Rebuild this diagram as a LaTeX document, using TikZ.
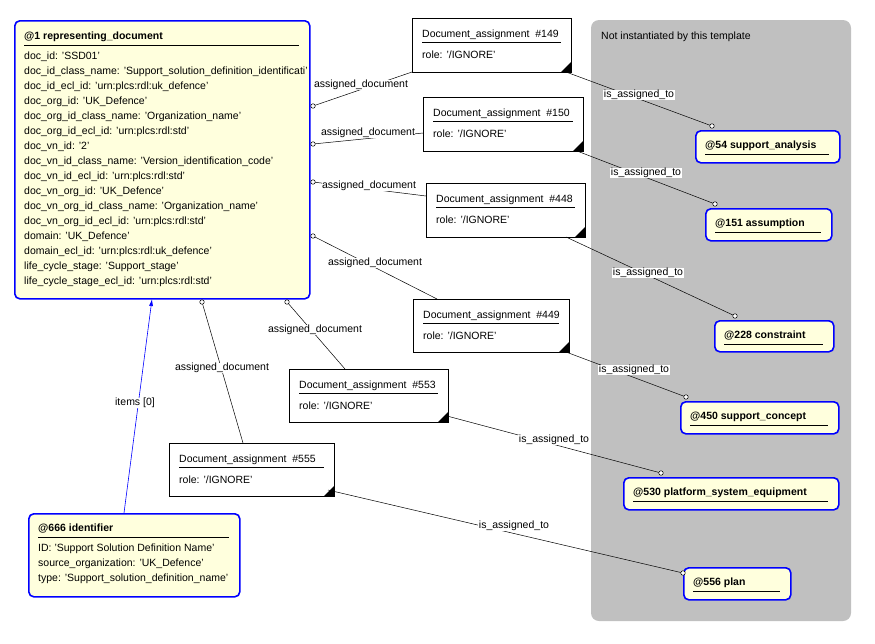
\documentclass[tikz,border=0pt]{standalone}
\usepackage{fontspec}
\setmainfont{Liberation Sans}
\usetikzlibrary{arrows.meta}
\definecolor{ent}{RGB}{255,255,221}
\definecolor{grey}{RGB}{192,192,192}
\definecolor{eb}{RGB}{0,0,255}
\tikzset{
 ent/.style={draw=eb,line width=1.6pt,fill=ent,rounded corners=5pt,inner sep=0},
 da/.style={draw=black,line width=0.8pt,fill=white,inner sep=0},
 t/.style={anchor=west,inner sep=0,font=\fontsize{10.5}{12}\selectfont},
 tb/.style={t,font=\fontsize{10.5}{12}\selectfont\bfseries},
 lab/.style={fill=white,inner sep=0.5pt,font=\fontsize{10.5}{12}\selectfont},
 con/.style={draw=black,line width=0.5pt},
 oc/.style={circle,draw=black,fill=white,inner sep=0,minimum size=4.5pt,line width=0.5pt},
}
\newcommand{\dabox}[6]{% name x1 y1 x2 y2 number
 \node[da,minimum width=#4-#2,minimum height=#5-#3,anchor=north west] (#1) at (#2,#3) {};
 \node[t] (#1t) at (#2+10,#3+17) {Document\_assignment\ \ #6};
 \draw[line width=0.5pt] (#1t.south west)++(0,-2.5pt) -- ++(#4-#2-20,0);
 \node[t] (#1r) at (#2+10,#3+37) {role: '/IGNORE'};
 \fill (#4,#5) -- ++(-10,0) -- ++(10,-10) -- cycle;
}
\newcommand{\entbox}[6]{% name x1 y1 x2 y2 title
 \node[ent,minimum width=#4-#2,minimum height=#5-#3,anchor=north west] (#1) at (#2,#3) {};
 \node[tb] (#1t) at (#2+10,#3+16) {#6};
 \draw[line width=0.6pt] (#1t.south west)++(0,-3pt) -- ++(#4-#2-20,0);
}
\begin{document}
\begin{tikzpicture}[x=1pt,y=-1pt]
\useasboundingbox (0,0) rectangle (875,643);
\fill[grey,rounded corners=8pt] (591,20) rectangle (851,621);
\node[t] (nit) at (601,37) {Not instantiated by this template};

% main entity
\node[ent,minimum width=295,minimum height=278,anchor=north west] (main) at (14,20) {};
\node[tb] (maint) at (24,37) {@1 representing\_document};
\draw[line width=0.6pt] (24,45) -- (299,45);
\begin{scope}
\clip (14,20) rectangle (308,298);
\foreach \s [count=\i from 0] in {doc\_id: 'SSD01',
 doc\_id\_class\_name: 'Support\_solution\_definition\_identificati',
 doc\_id\_ecl\_id: 'urn:plcs:rdl:uk\_defence',
 doc\_org\_id: 'UK\_Defence',
 doc\_org\_id\_class\_name: 'Organization\_name',
 doc\_org\_id\_ecl\_id: 'urn:plcs:rdl:std',
 doc\_vn\_id: '2',
 doc\_vn\_id\_class\_name: 'Version\_identification\_code',
 doc\_vn\_id\_ecl\_id: 'urn:plcs:rdl:std',
 doc\_vn\_org\_id: 'UK\_Defence',
 doc\_vn\_org\_id\_class\_name: 'Organization\_name',
 doc\_vn\_org\_id\_ecl\_id: 'urn:plcs:rdl:std',
 domain: 'UK\_Defence',
 domain\_ecl\_id: 'urn:plcs:rdl:uk\_defence',
 life\_cycle\_stage: 'Support\_stage',
 life\_cycle\_stage\_ecl\_id: 'urn:plcs:rdl:std'}
 {\node[t] (ml\i) at (24,57+\i*15) {\s};}
\end{scope}

% identifier
\entbox{idf}{28}{513}{239}{596}{@666 identifier}
\node[t] (idf1) at (38,549) {ID: 'Support Solution Definition Name'};
\node[t] (idf2) at (38,564) {source\_organization: 'UK\_Defence'};
\node[t] (idf3) at (38,579) {type: 'Support\_solution\_definition\_name'};

% document assignments
\dabox{d149}{412}{18}{571}{72}{\#149}
\dabox{d150}{423}{97}{583}{151}{\#150}
\dabox{d448}{426}{183}{585}{237}{\#448}
\dabox{d449}{413}{299}{569}{352}{\#449}
\dabox{d553}{289}{369}{448}{422}{\#553}
\dabox{d555}{169}{443}{334}{496}{\#555}

% targets
\entbox{e54}{695}{130}{839}{162}{@54 support\_analysis}
\entbox{e151}{705}{208}{831}{240}{@151 assumption}
\entbox{e228}{714}{320}{833}{351}{@228 constraint}
\entbox{e450}{680}{401}{838}{433}{@450 support\_concept}
\entbox{e530}{623}{477}{838}{509}{@530 platform\_system\_equipment}
\entbox{e556}{683}{567}{790}{599}{@556 plan}

% assigned_document connectors
\coordinate (a1) at (313,106); \coordinate (b1) at (412,72);
\coordinate (a2) at (313,144); \coordinate (b2) at (423,133);
\coordinate (a3) at (313,182); \coordinate (b3) at (426,196);
\coordinate (a4) at (313,236); \coordinate (b4) at (437,299);
\coordinate (a5) at (287,302); \coordinate (b5) at (345,369);
\coordinate (a6) at (202,302); \coordinate (b6) at (243,443);
\foreach \i/\lx/\ly in {1/361/85,2/368/133,3/369/186,4/375/263,5/315/330,6/222/368}{
 \draw[con] (a\i) -- (b\i);
 \node[lab] (lad\i) at (\lx,\ly) {assigned\_document};
 \node[oc] (oca\i) at (a\i) {};
}
% is_assigned_to connectors
\coordinate (c1) at (566,72);  \coordinate (t1) at (712,126);
\coordinate (c2) at (577,151); \coordinate (t2) at (715,204);
\coordinate (c3) at (566,237); \coordinate (t3) at (735,316);
\coordinate (c4) at (566,352); \coordinate (t4) at (686,397);
\coordinate (c5) at (447,416); \coordinate (t5) at (661,473);
\coordinate (c6) at (328,490); \coordinate (t6) at (683,573);
\foreach \i/\lx/\ly in {1/639/95,2/646/173,3/648/273,4/634/370,5/554/440,6/514/526}{
 \draw[con] (c\i) -- (t\i);
 \node[lab] (lia\i) at (\lx,\ly) {is\_assigned\_to};
 \node[oc] (oct\i) at (t\i) {};
}
% items
\coordinate (ia) at (124,513); \coordinate (ib) at (152,299);
\draw[draw=eb,line width=0.6pt,-{Latex[length=7pt,width=4pt]}] (ia) -- (ib);
\node[lab] (itl) at (135,403) {items [0]};
\end{tikzpicture}
\end{document}
